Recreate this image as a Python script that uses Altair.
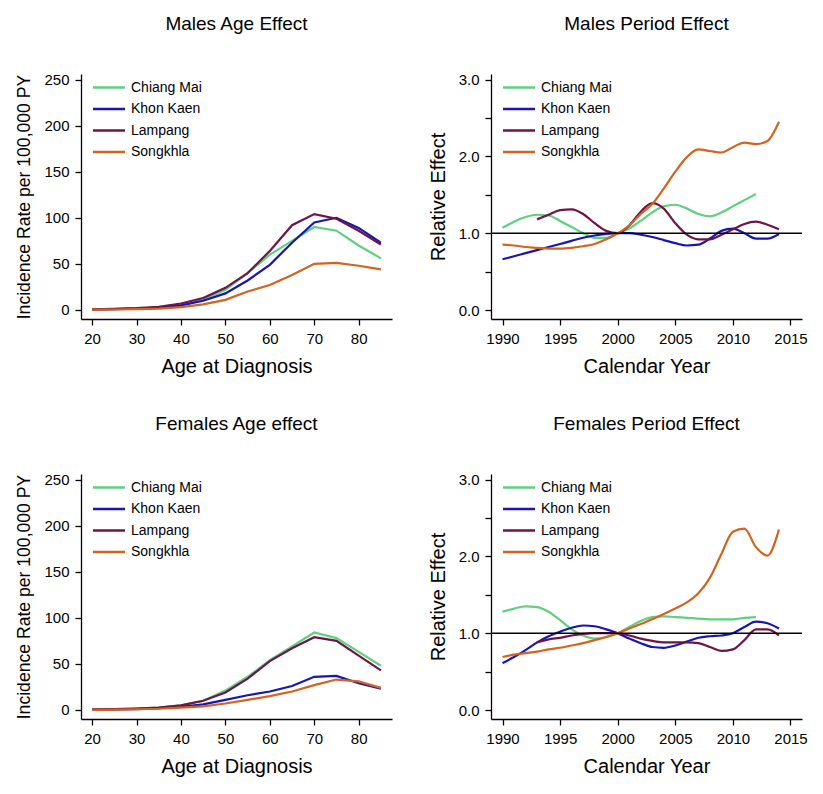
import altair as alt
import pandas as pd

regions = ["Chiang Mai", "Khon Kaen", "Lampang", "Songkhla"]
colors = ["#5fcf80", "#1616b4", "#6e1446", "#d2641e"]

ages = [20, 25, 30, 35, 40, 45, 50, 55, 60, 65, 70, 75, 80, 85]

male_age = {
    "Chiang Mai": [0.5, 1, 1.5, 2.5, 5, 11, 22, 40, 60, 75, 90, 86, 70, 56],
    "Khon Kaen": [0.5, 1, 1.5, 2.5, 5, 10, 18, 32, 49, 73, 95, 100, 89, 73],
    "Lampang": [0.7, 1.2, 2, 3.5, 7, 13, 24, 40, 64, 92, 104, 99, 86, 71],
    "Songkhla": [0.3, 0.5, 1, 1.5, 3, 6, 11, 20, 27, 38, 50, 51, 48, 44],
}
female_age = {
    "Chiang Mai": [0.5, 1, 1.5, 2.5, 5, 10, 21, 36, 54, 69, 84, 78, 63, 48],
    "Khon Kaen": [0.3, 0.7, 1, 2, 3.5, 6, 11, 16, 20, 26, 36, 37, 29, 23],
    "Lampang": [0.5, 1, 1.5, 2.5, 5, 10, 19, 34, 53, 67, 79, 75, 59, 43],
    "Songkhla": [0.2, 0.4, 0.8, 1.3, 2.5, 4, 7, 11, 15, 20, 27, 33, 31, 24],
}

years_cm = list(range(1990, 2013))
years_kk = list(range(1990, 2015))
years_lp = list(range(1993, 2015))
years_sk = list(range(1990, 2015))
period_years = {"Chiang Mai": years_cm, "Khon Kaen": years_kk,
                "Lampang": years_lp, "Songkhla": years_sk}

male_period = {
    "Chiang Mai": [1.07, 1.15, 1.21, 1.24, 1.23, 1.16, 1.08, 1.00, 0.94, 0.94,
                   1.00, 1.06, 1.16, 1.27, 1.35, 1.37, 1.32, 1.25, 1.22, 1.27,
                   1.35, 1.43, 1.51],
    "Khon Kaen": [0.66, 0.70, 0.74, 0.78, 0.82, 0.86, 0.90, 0.94, 0.97, 0.99,
                  1.00, 1.00, 0.98, 0.95, 0.91, 0.87, 0.84, 0.85, 0.93, 1.03,
                  1.06, 1.00, 0.93, 0.93, 0.99],
    "Lampang": [1.18, 1.24, 1.30, 1.31, 1.25, 1.13, 1.03, 1.00, 1.10, 1.28,
                1.39, 1.32, 1.13, 0.98, 0.92, 0.92, 0.98, 1.05, 1.12, 1.15,
                1.11, 1.05],
    "Songkhla": [0.85, 0.84, 0.82, 0.81, 0.80, 0.80, 0.81, 0.83, 0.86, 0.92,
                 1.00, 1.10, 1.25, 1.38, 1.58, 1.80, 1.99, 2.09, 2.07, 2.05,
                 2.12, 2.18, 2.16, 2.20, 2.45],
}
female_period = {
    "Chiang Mai": [1.28, 1.32, 1.35, 1.34, 1.28, 1.17, 1.05, 0.97, 0.93, 0.95,
                   1.00, 1.08, 1.16, 1.21, 1.22, 1.21, 1.20, 1.19, 1.18, 1.18,
                   1.18, 1.20, 1.21],
    "Khon Kaen": [0.61, 0.69, 0.78, 0.88, 0.96, 1.02, 1.07, 1.10, 1.09, 1.05,
                  1.00, 0.93, 0.87, 0.82, 0.81, 0.84, 0.89, 0.94, 0.96, 0.97,
                  1.00, 1.08, 1.15, 1.13, 1.06],
    "Lampang": [0.88, 0.92, 0.94, 0.97, 0.99, 1.00, 1.00, 1.00, 0.97, 0.93,
                0.90, 0.88, 0.88, 0.88, 0.87, 0.82, 0.77, 0.79, 0.91, 1.05,
                1.05, 0.97],
    "Songkhla": [0.69, 0.72, 0.74, 0.76, 0.79, 0.81, 0.84, 0.87, 0.91, 0.95,
                 1.00, 1.06, 1.12, 1.18, 1.25, 1.32, 1.40, 1.52, 1.72, 2.03,
                 2.32, 2.36, 2.12, 2.01, 2.35],
}

age_ticks = [20, 30, 40, 50, 60, 70, 80]
rate_ticks = [0, 50, 100, 150, 200, 250]
year_ticks = [1990, 1995, 2000, 2005, 2010, 2015]
effect_ticks = [0, 0.5, 1.0, 1.5, 2.0, 2.5, 3.0]
reference_level = [1.0]

FONT = "Liberation Sans"


def age_frame(d):
    rows = []
    for r in regions:
        for i, (a, v) in enumerate(zip(ages, d[r])):
            rows.append({"region": r, "age": a, "rate": v, "idx": i})
    return pd.DataFrame(rows)


def period_frame(d):
    rows = []
    for r in regions:
        for i, (y, v) in enumerate(zip(period_years[r], d[r])):
            rows.append({"region": r, "year": y, "effect": v, "idx": i})
    return pd.DataFrame(rows)


def legend():
    # a wide line glyph (3x its nominal box) so rows stay compact
    return alt.Legend(
        title=None, orient="none", legendX=21, legendY=6.5,
        symbolType="M-3,0L3,0", symbolSize=114, symbolStrokeWidth=2.5,
        symbolFillColor="transparent",
        labelFontSize=14, labelFont=FONT, labelColor="black", labelOffset=15,
        rowPadding=7.5, padding=0,
    )


color_scale = alt.Scale(domain=regions, range=colors)


def age_panel(d, title):
    return alt.Chart(age_frame(d)).mark_line(strokeWidth=2.2).encode(
        x=alt.X("age:Q", scale=alt.Scale(domain=[17.5, 87.5], nice=False, zero=False),
                axis=alt.Axis(values=age_ticks, title="Age at Diagnosis", format="d")),
        y=alt.Y("rate:Q", scale=alt.Scale(domain=[-9.8, 256], nice=False),
                axis=alt.Axis(values=rate_ticks, title="Incidence Rate per 100,000 PY",
                              titleFontSize=17.6, format="d")),
        color=alt.Color("region:N", scale=color_scale, legend=legend()),
        order="idx:Q",
    ).properties(width=311, height=245, title=alt.TitleParams(title, frame="group"))


def period_panel(d, title):
    lines = alt.Chart(period_frame(d)).mark_line(strokeWidth=2.2, interpolate="monotone").encode(
        x=alt.X("year:Q", scale=alt.Scale(domain=[1989, 2016], nice=False, zero=False),
                axis=alt.Axis(values=year_ticks, title="Calendar Year", format="d")),
        y=alt.Y("effect:Q", scale=alt.Scale(domain=[-0.117, 3.072], nice=False),
                axis=alt.Axis(values=effect_ticks, title="Relative Effect",
                              labelExpr="datum.value % 1 === 0 ? format(datum.value, '.1f') : ''")),
        color=alt.Color("region:N", scale=color_scale, legend=legend()),
        order="idx:Q",
    )
    rule = alt.Chart(pd.DataFrame({"ref": reference_level})).mark_rule(
        color="black", strokeWidth=1.5).encode(y="ref:Q")
    return alt.layer(lines, rule).properties(
        width=311, height=245, title=alt.TitleParams(title, frame="group"))


chart = alt.concat(
    age_panel(male_age, "Males Age Effect"),
    period_panel(male_period, "Males Period Effect"),
    age_panel(female_age, "Females Age effect"),
    period_panel(female_period, "Females Period Effect"),
    columns=2,
    spacing={"row": 38, "column": 36},
).resolve_scale(color="independent").resolve_legend(color="independent").properties(
    padding={"left": 7, "top": 6, "right": 5, "bottom": 5}, background="white"
).configure_axis(
    domainColor="black", tickColor="black", labelColor="black", titleColor="black",
    labelFont=FONT, titleFont=FONT, labelFontSize=15, titleFontSize=20,
    titleFontWeight="normal", tickSize=6, grid=False, domainWidth=1.3, tickWidth=1.3,
    labelPadding=6,
).configure_axisY(titlePadding=10).configure_axisX(titlePadding=10).configure_view(
    stroke=None
).configure_title(
    font=FONT, fontSize=19, fontWeight="normal", offset=39, color="black"
)

chart.save("out.html", embed_options={"renderer": "svg", "actions": False})
